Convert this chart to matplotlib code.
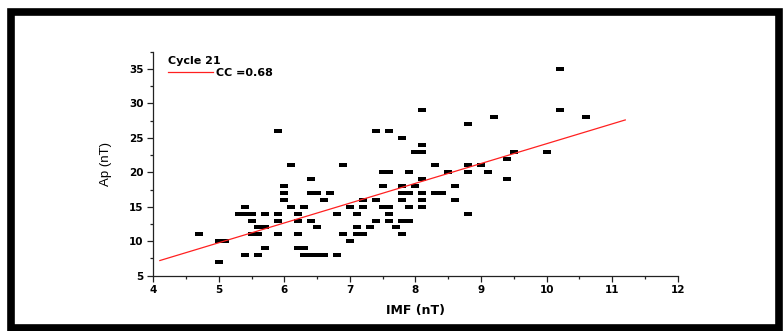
import matplotlib
matplotlib.use("Agg")
import matplotlib.pyplot as plt
from matplotlib.path import Path
from matplotlib.patches import Rectangle
from matplotlib.ticker import MultipleLocator

plt.rcParams['font.family'] = ['Liberation Sans', 'DejaVu Sans']

# Data: IMF (nT) values grouped by Ap (nT)
ap_35 = [10.2]
ap_29 = [8.1, 10.2]
ap_28 = [9.2, 10.6]
ap_27 = [8.8]
ap_26 = [5.9, 7.4, 7.6]
ap_25 = [7.8]
ap_24 = [8.1]
ap_23 = [8.0, 8.1, 9.5, 10.0]
ap_22 = [9.4]
ap_21 = [6.1, 6.9, 8.3, 8.8, 9.0]
ap_20 = [7.5, 7.6, 7.9, 8.5, 8.8, 9.1]
ap_19 = [6.4, 8.1, 9.4]
ap_18 = [6.0, 7.5, 7.8, 8.0, 8.6]
ap_17 = [6.0, 6.4, 6.5, 6.7, 7.8, 7.9, 8.1, 8.3, 8.4]
ap_16 = [6.0, 6.6, 7.2, 7.4, 7.8, 8.1, 8.6]
ap_15 = [5.4, 6.1, 6.3, 7.0, 7.2, 7.5, 7.6, 7.9, 8.1]
ap_14 = [5.3, 5.4, 5.5, 5.7, 5.9, 6.2, 6.8, 7.1, 7.6, 8.8]
ap_13 = [5.5, 5.9, 6.2, 6.4, 7.4, 7.6, 7.8, 7.9]
ap_12 = [5.6, 5.7, 6.5, 7.1, 7.3, 7.7]
ap_11 = [4.7, 5.5, 5.6, 5.9, 6.2, 6.9, 7.1, 7.2, 7.8]
ap_10 = [5.0, 5.1, 7.0]
ap_9 = [5.7, 6.2, 6.3]
ap_8 = [5.4, 5.6, 6.3, 6.4, 6.5, 6.6, 6.8]
ap_7 = [5.0]

groups = {35: ap_35, 29: ap_29, 28: ap_28, 27: ap_27, 26: ap_26, 25: ap_25,
          24: ap_24, 23: ap_23, 22: ap_22, 21: ap_21, 20: ap_20, 19: ap_19,
          18: ap_18, 17: ap_17, 16: ap_16, 15: ap_15, 14: ap_14, 13: ap_13,
          12: ap_12, 11: ap_11, 10: ap_10, 9: ap_9, 8: ap_8, 7: ap_7}

imf = []
ap = []
for a, xs in groups.items():
    for x in xs:
        imf.append(x)
        ap.append(a)

# Regression line end points
fit_x = [4.1, 11.2]
fit_y = [7.2, 27.6]

legend_title = "Cycle 21"
fit_label = "CC =0.68"

fig = plt.figure(figsize=(7.83, 3.31), dpi=100)
ax = fig.add_axes([153.3 / 783, 55.3 / 331, 524.4 / 783, 224.0 / 331])

rect_marker = Path([(-1, -0.5), (1, -0.5), (1, 0.5), (-1, 0.5), (-1, -0.5)],
                   [Path.MOVETO, Path.LINETO, Path.LINETO, Path.LINETO, Path.CLOSEPOLY])

ax.plot(imf, ap, linestyle='none', marker=rect_marker, markersize=5.2,
        color='black', markeredgewidth=0)
ax.plot(fit_x, fit_y, color='#ff2020', linewidth=0.9, label=fit_label)

ax.set_xlim(4, 12)
ax.set_ylim(5, 37.5)
ax.xaxis.set_major_locator(MultipleLocator(1))
ax.xaxis.set_minor_locator(MultipleLocator(0.5))
ax.yaxis.set_major_locator(MultipleLocator(5))
ax.yaxis.set_minor_locator(MultipleLocator(2.5))

for s in ['top', 'right']:
    ax.spines[s].set_visible(False)
for s in ['left', 'bottom']:
    ax.spines[s].set_linewidth(0.9)
    ax.spines[s].set_color('#222222')

ax.tick_params(which='major', direction='out', length=4, width=0.9, color='#222222',
               labelsize=7.5, pad=3)
ax.tick_params(which='minor', direction='out', length=2, width=0.9, color='#222222')
for lab in ax.get_xticklabels() + ax.get_yticklabels():
    lab.set_fontweight('bold')
    lab.set_family(['DejaVu Sans'])

ax.set_xlabel("IMF (nT)", fontsize=9, fontweight='bold', labelpad=6,
              family=['DejaVu Sans'])
ax.set_ylabel("Ap (nT)", fontsize=9.5, labelpad=12)

leg = ax.legend(title=legend_title, loc='upper left', bbox_to_anchor=(0.02, 1.0),
                frameon=False, handlelength=4.0, handletextpad=0.3,
                prop={'size': 8, 'weight': 'bold', 'family': ['DejaVu Sans']},
                borderaxespad=0.0, labelspacing=0.2)
leg.get_title().set_fontweight('bold')
leg.get_title().set_fontsize(8)
leg.get_title().set_family(['DejaVu Sans'])
leg._legend_box.align = 'left'

fig.add_artist(Rectangle((10.5 / 783, 3.5 / 331), 768.5 / 783, 316 / 331,
                         transform=fig.transFigure, fill=False,
                         edgecolor='black', linewidth=5.5))

fig.savefig("out.png", dpi=100)
